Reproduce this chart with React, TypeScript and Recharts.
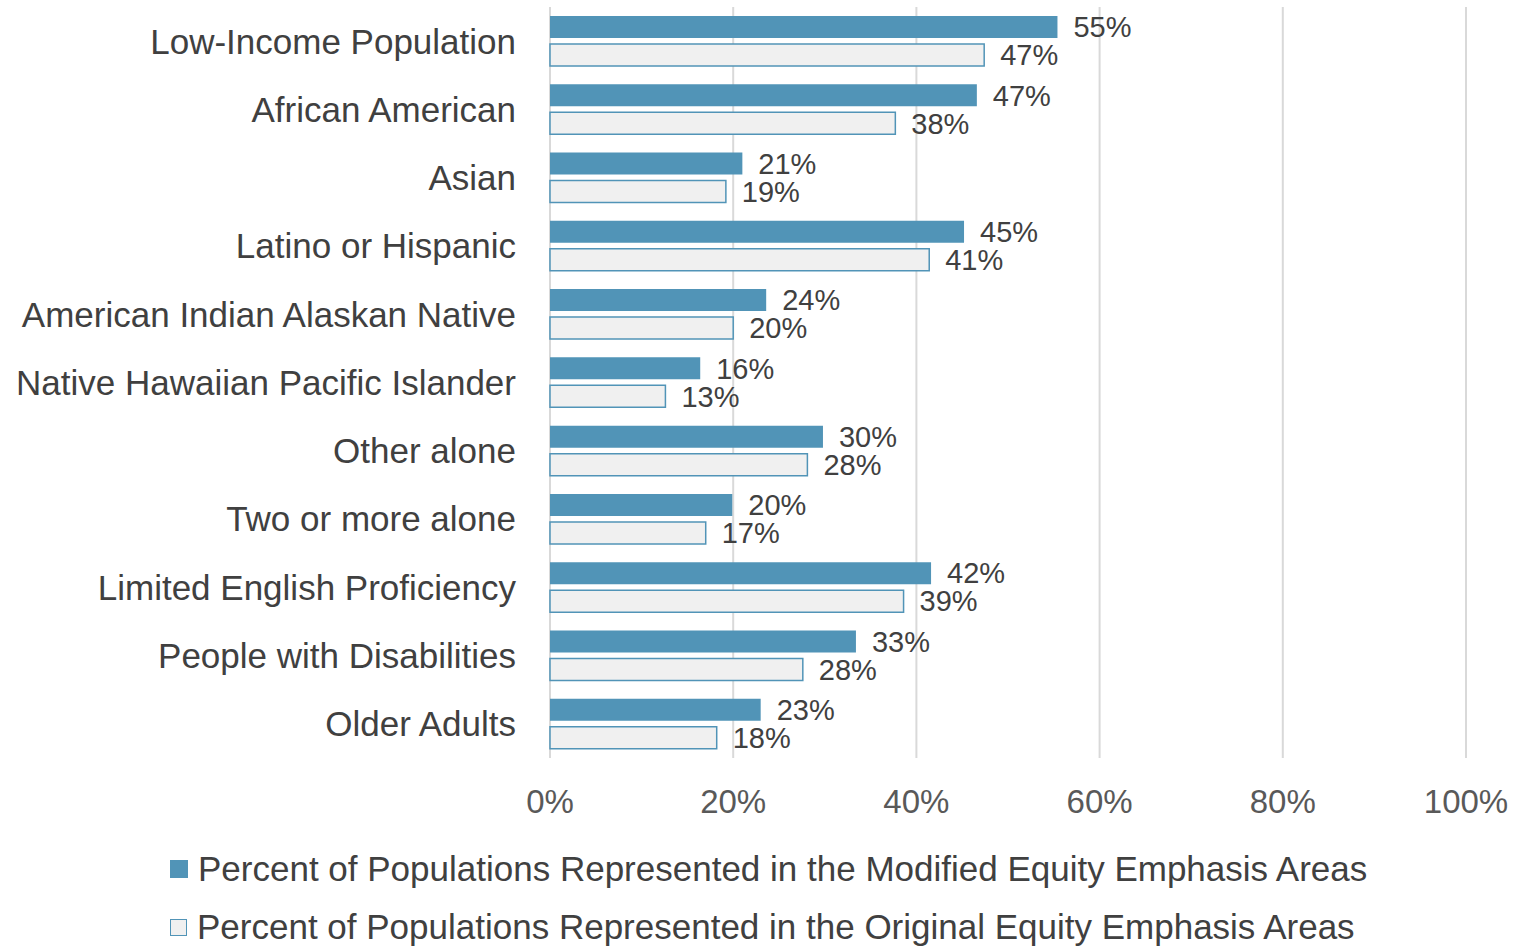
import React from 'react';
import { BarChart, Bar, XAxis, YAxis, CartesianGrid, LabelList, Legend } from 'recharts';

const categories = [
  'Low-Income Population',
  'African American',
  'Asian',
  'Latino or Hispanic',
  'American Indian Alaskan Native',
  'Native Hawaiian Pacific Islander',
  'Other alone',
  'Two or more alone',
  'Limited English Proficiency',
  'People with Disabilities',
  'Older Adults',
];
const modifiedValues = [55.4, 46.6, 21.0, 45.2, 23.6, 16.4, 29.8, 19.9, 41.6, 33.4, 23.0];
const originalValues = [47.4, 37.7, 19.2, 41.4, 20.0, 12.6, 28.1, 17.0, 38.6, 27.6, 18.2];
const xTicks = [0, 20, 40, 60, 80, 100];
const seriesNames = [
  'Percent of Populations Represented in the Modified Equity Emphasis Areas',
  'Percent of Populations Represented in the Original Equity Emphasis Areas',
];

const data = categories.map((name, i) => ({
  name,
  modified: modifiedValues[i],
  original: originalValues[i],
}));

const MOD = '#5194B7';
const ORIG_FILL = '#F0F0F0';
const TEXT = '#404040';
const FONT = '"Liberation Sans", Arial, sans-serif';

const LegendContent = () => (
  <div style={{ paddingLeft: 170, fontFamily: FONT }}>
    <div style={{ display: 'flex', alignItems: 'center', height: 58 }}>
      <span style={{ width: 18, height: 18, background: MOD, display: 'inline-block', marginRight: 10 }} />
      <span style={{ fontSize: 35, color: TEXT }}>{seriesNames[0]}</span>
    </div>
    <div style={{ display: 'flex', alignItems: 'center', height: 58 }}>
      <span style={{ width: 15, height: 15, background: ORIG_FILL, border: `1.5px solid ${MOD}`, display: 'inline-block', marginRight: 10 }} />
      <span style={{ fontSize: 35, color: TEXT }}>{seriesNames[1]}</span>
    </div>
  </div>
);

export default function App() {
  return (
    <div style={{ position: 'absolute', left: 0, top: 0, width: 1520, height: 946, fontFamily: FONT, background: '#fff' }}>
      <BarChart
        width={1520}
        height={946}
        data={data}
        layout="vertical"
        margin={{ top: 7, right: 54, left: 0, bottom: 128 }}
        barSize={22}
        barGap={6}
      >
        <CartesianGrid horizontal={false} vertical stroke="#D9D9D9" strokeWidth={2} />
        <XAxis
          type="number"
          domain={[0, 100]}
          ticks={xTicks}
          tickFormatter={(v: number) => `${v}%`}
          axisLine={false}
          tickLine={false}
          tickSize={0}
          tickMargin={32}
          height={60}
          tick={{ fill: '#595959', fontSize: 33 }}
          interval={0}
        />
        <YAxis
          type="category"
          dataKey="name"
          width={550}
          axisLine={false}
          tickLine={false}
          tickSize={0}
          tickMargin={34}
          tick={{ fill: TEXT, fontSize: 35 }}
          interval={0}
        />
        <Legend
          layout="horizontal"
          verticalAlign="middle"
          align="center"
          wrapperStyle={{ top: 840, left: 0, width: 1520 }}
          content={<LegendContent />}
        />
        <Bar dataKey="modified" fill={MOD} isAnimationActive={false}>
          <LabelList
            dataKey="modified"
            position="right"
            offset={16}
            fill={TEXT}
            fontSize={29}
            formatter={(v: number) => `${Math.round(v)}%`}
          />
        </Bar>
        <Bar dataKey="original" fill={ORIG_FILL} stroke={MOD} strokeWidth={1.5} isAnimationActive={false}>
          <LabelList
            dataKey="original"
            position="right"
            offset={16}
            fill={TEXT}
            fontSize={29}
            formatter={(v: number) => `${Math.round(v)}%`}
          />
        </Bar>
      </BarChart>
    </div>
  );
}
